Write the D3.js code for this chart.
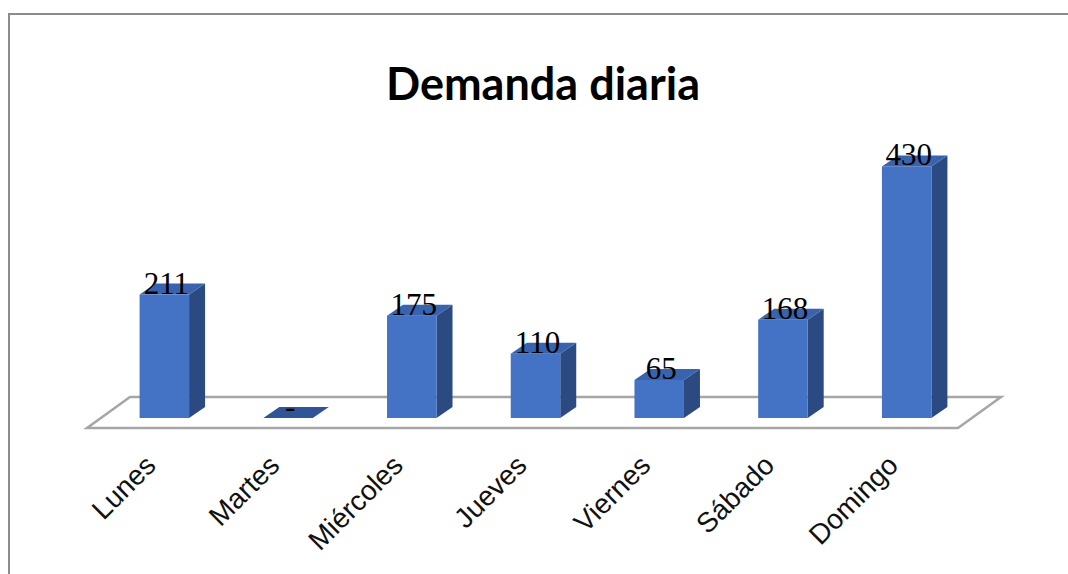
<!DOCTYPE html>
<html>
<head>
<meta charset="utf-8">
<script src="https://cdn.jsdelivr.net/npm/d3@7/dist/d3.min.js"></script>
<style>
  html, body { margin: 0; padding: 0; background: #fff; }
  svg { display: block; }
</style>
</head>
<body>
<svg id="chart" width="1068" height="574"></svg>
<script>
// ---- data ----
const categories = ["Lunes", "Martes", "Miércoles", "Jueves", "Viernes", "Sábado", "Domingo"];
const values = [211, 0, 175, 110, 65, 168, 430];
const title = "Demanda diaria";

// ---- layout ----
const svg = d3.select("#chart");

// frame
svg.append("rect")
  .attr("x", 9).attr("y", 14)
  .attr("width", 1200).attr("height", 700)
  .attr("fill", "#fff")
  .attr("stroke", "#8c8c8c")
  .attr("stroke-width", 2);

// title
svg.append("text")
  .attr("x", 543).attr("y", 100)
  .attr("text-anchor", "middle")
  .attr("font-family", "Lato, 'Open Sans', sans-serif")
  .attr("font-weight", "bold")
  .attr("font-size", 45)
  .attr("fill", "#000")
  .text(title);

// floor geometry (3D perspective: depth vector)
const floorFrontY = 428;
const floorDepth = { dx: 43, dy: -31 };
const x = d3.scaleBand()
  .domain(categories)
  .range([87, 958])
  .paddingInner(0.6)
  .paddingOuter(0.32);

const barShift = { dx: 13, dy: -10 };
const barDepth = { dx: 16, dy: -11 };
const baseY = floorFrontY + barShift.dy; // 418

const y = d3.scaleLinear()
  .domain([0, 500])
  .range([baseY, baseY - 500 * 0.585]);

// floor polygon
const x0 = x.range()[0], x1 = x.range()[1];
const floorPts = [
  [x0, floorFrontY],
  [x1, floorFrontY],
  [x1 + floorDepth.dx, floorFrontY + floorDepth.dy],
  [x0 + floorDepth.dx, floorFrontY + floorDepth.dy]
];
svg.append("polygon")
  .attr("points", floorPts.map(p => p.join(",")).join(" "))
  .attr("fill", "#fff")
  .attr("stroke", "#a6a6a6")
  .attr("stroke-width", 2.5)
  .attr("stroke-linejoin", "miter");

const rows = categories.map((c, i) => ({ c, v: values[i] }));

// bars
const bars = svg.append("g").selectAll("g.bar")
  .data(rows)
  .join("g").attr("class", "bar");

bars.each(function(d) {
  const g = d3.select(this);
  const L = x(d.c) + barShift.dx;
  const R = L + x.bandwidth();
  const T = y(d.v);
  const B = y(0);
  const dx = barDepth.dx, dy = barDepth.dy;
  g.append("polygon")
    .attr("points", [[R, B], [R + dx, B + dy], [R + dx, T + dy], [R, T]].map(p => p.join(",")).join(" "))
    .attr("fill", "#2b4a82");
  if (B - T > 0) {
    g.append("rect")
      .attr("x", L).attr("y", T)
      .attr("width", R - L).attr("height", B - T)
      .attr("fill", "#4472c4");
  }
  g.append("polygon")
    .attr("points", [[L, T], [R, T], [R + dx, T + dy], [L + dx, T + dy]].map(p => p.join(",")).join(" "))
    .attr("fill", d.v === 0 ? "#2f5597" : "#3a63ad");
});

// value labels
const fmt = v => v === 0 ? "-" : d3.format("d")(v);
svg.append("g").selectAll("text")
  .data(rows)
  .join("text")
  .attr("x", d => x(d.c) + barShift.dx + x.bandwidth() / 2 + 2)
  .attr("y", d => y(d.v) - 1)
  .attr("text-anchor", "middle")
  .attr("font-family", "'Liberation Serif', 'Times New Roman', serif")
  .attr("font-size", 31)
  .attr("fill", "#000")
  .text(d => fmt(d.v));

// category labels (rotated -45)
svg.append("g").selectAll("text")
  .data(categories)
  .join("text")
  .attr("transform", d => `translate(${x(d) + barShift.dx + x.bandwidth() / 2 - 7},467) rotate(-45)`)
  .attr("text-anchor", "end")
  .attr("font-family", "'Liberation Sans', Arial, sans-serif")
  .attr("font-size", 28)
  .attr("fill", "#111")
  .text(d => d);
</script>
</body>
</html>
